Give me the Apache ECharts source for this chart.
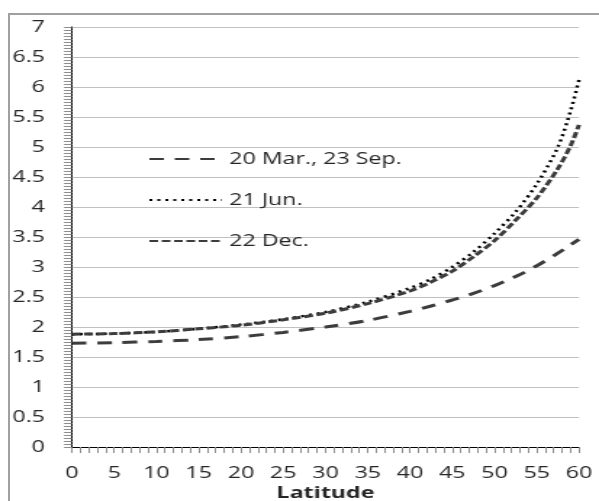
<!DOCTYPE html>
<html>
<head>
<meta charset="utf-8">
<script src="https://cdn.jsdelivr.net/npm/echarts@6/dist/echarts.min.js"></script>
<style>
  html, body { margin: 0; padding: 0; background: #fff; overflow: hidden; }
  #frame { position: absolute; left: 8px; top: 13px; width: 700px; height: 600px;
           border-left: 2px solid #a0a0a0; border-top: 2px solid #a0a0a0; }
  /* the reference is stretched sideways, so the chart is drawn narrow and scaled */
  #chart { position: absolute; left: 0; top: 0; width: 413px; height: 501px;
           transform: scaleX(1.4504); transform-origin: 0 0; }
</style>
</head>
<body>
<div id="frame"></div>
<div id="chart"></div>
<script>
  // latitude (deg)
  var lat = [0, 5, 10, 15, 20, 25, 30, 35, 40, 42.5, 45, 47.5, 50, 52.5, 55, 57.5, 59, 60]
  var marSep = [1.73, 1.74, 1.76, 1.79, 1.84, 1.91, 2.0, 2.11, 2.26, 2.35, 2.45, 2.56, 2.69, 2.84, 3.02, 3.23, 3.37, 3.46]
  var jun = [1.88, 1.89, 1.92, 1.97, 2.04, 2.13, 2.25, 2.42, 2.65, 2.8, 3.0, 3.25, 3.56, 3.92, 4.38, 5.0, 5.6, 6.12]
  var dec = [1.88, 1.89, 1.92, 1.97, 2.03, 2.12, 2.23, 2.39, 2.6, 2.75, 2.93, 3.17, 3.44, 3.78, 4.15, 4.64, 5.02, 5.37]
  var names = ['20 Mar., 23 Sep.', '21 Jun.', '22 Dec.']

  function pairs(vals) {
    return lat.map(function (x, i) { return [x, vals[i]] })
  }

  var font = 'Open Sans'
  var myChart = echarts.init(document.getElementById('chart'))

  var option = {
    animation: false,
    grid: {
      left: 49.6,
      right: 13.8,
      top: 27,
      bottom: 54,
      containLabel: false,
      outerBoundsMode: 'none'
    },
    legend: {
      orient: 'vertical',
      left: 102,
      top: 151,
      padding: 0,
      itemWidth: 50,
      itemHeight: 14,
      itemGap: 25,
      data: names,
      itemStyle: { opacity: 0 },
      textStyle: { fontFamily: font, fontSize: 16, color: '#262626' }
    },
    xAxis: [
      {
        type: 'value',
        min: 0,
        max: 60,
        interval: 5,
        name: 'Latitude',
        nameLocation: 'middle',
        nameGap: 37,
        nameTextStyle: { fontFamily: font, fontSize: 16, fontWeight: 'bold', color: '#262626' },
        axisLine: { lineStyle: { color: '#8c8c8c' } },
        axisTick: { show: true, length: 6, lineStyle: { color: '#8c8c8c' } },
        minorTick: { show: true, splitNumber: 5, length: 6, lineStyle: { color: '#8c8c8c' } },
        axisLabel: { margin: 18, fontFamily: font, fontSize: 16, color: '#262626' },
        splitLine: { show: false }
      },
      {
        type: 'value',
        position: 'top',
        min: 0,
        max: 60,
        axisLine: { show: true, lineStyle: { color: '#000' } },
        axisTick: { show: false },
        axisLabel: { show: false },
        splitLine: { show: false }
      }
    ],
    yAxis: [
      {
        type: 'value',
        min: 0,
        max: 7,
        interval: 0.5,
        axisLine: { show: true, lineStyle: { color: '#8c8c8c' } },
        axisTick: { show: true, length: 5.5, lineStyle: { color: '#8c8c8c' } },
        minorTick: { show: true, splitNumber: 10, length: 5.5, lineStyle: { color: '#8c8c8c' } },
        axisLabel: { margin: 18.6, fontFamily: font, fontSize: 16, color: '#262626' },
        splitLine: { show: true, lineStyle: { color: '#c0c0c0', width: 1 } }
      },
      {
        type: 'value',
        position: 'right',
        min: 0,
        max: 7,
        axisLine: { show: true, lineStyle: { color: '#000' } },
        axisTick: { show: false },
        axisLabel: { show: false },
        splitLine: { show: false }
      }
    ],
    series: [
      {
        name: names[0],
        type: 'line',
        smooth: 0.3,
        symbol: 'none',
        data: pairs(marSep),
        lineStyle: { color: '#3c3c3c', width: 3, type: [10, 7.5] },
        itemStyle: { color: '#3c3c3c' }
      },
      {
        name: names[1],
        type: 'line',
        smooth: 0.3,
        symbol: 'none',
        data: pairs(jun),
        lineStyle: { color: '#000', width: 2.5, type: [2, 3.5] },
        itemStyle: { color: '#000' }
      },
      {
        name: names[2],
        type: 'line',
        smooth: 0.3,
        symbol: 'none',
        data: pairs(dec),
        lineStyle: { color: '#3c3c3c', width: 3, type: [6, 2.5] },
        itemStyle: { color: '#3c3c3c' }
      }
    ]
  }
  myChart.setOption(option)
</script>
</body>
</html>
